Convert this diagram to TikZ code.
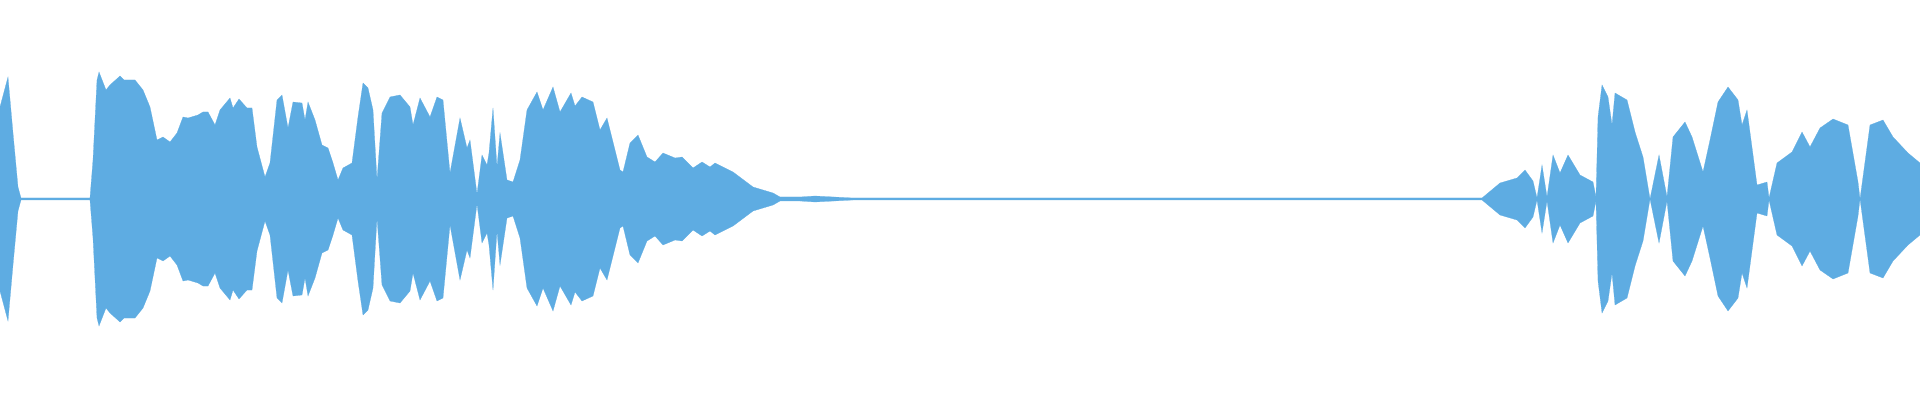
\documentclass[tikz,border=0pt]{standalone}
\definecolor{wavefill}{RGB}{94,172,226}
\tikzset{wave/.style={fill=wavefill, draw=wavefill, line width=0.3pt}}
% one half of the envelope, amplitude above the centre line
\newcommand{\wavehalf}{%
  \fill[wave] (0,0) -- (0,92) -- (8,122) -- (13,66) -- (18,12) -- (21,1) -- (90,1) -- (93,39) -- (97,119)
    -- (99,127) -- (106,109) -- (110,114) -- (120,123) -- (124,119) -- (135,119) -- (143,109) -- (150,92)
    -- (157,59) -- (163,62) -- (170,57) -- (177,66) -- (183,82) -- (188,81) -- (198,84) -- (203,87)
    -- (208,87) -- (215,74) -- (220,89) -- (230,101) -- (233,91) -- (239,100) -- (247,91) -- (252,91)
    -- (257,52) -- (265,22) -- (270,36) -- (277,99) -- (282,104) -- (288,71) -- (293,97) -- (302,96)
    -- (305,79) -- (308,97) -- (315,79) -- (322,54) -- (328,51) -- (333,36) -- (338,19) -- (343,31)
    -- (352,36) -- (358,82) -- (363,116) -- (368,111) -- (373,89) -- (377,19) -- (382,86) -- (390,102)
    -- (400,104) -- (410,92) -- (413,74) -- (420,101) -- (430,82) -- (437,102) -- (443,99) -- (450,26)
    -- (460,81) -- (467,51) -- (470,59) -- (477,5) -- (482,44) -- (487,34) -- (489,46) -- (493,91)
    -- (497,32) -- (500,66) -- (507,19) -- (513,17) -- (520,39) -- (527,89) -- (537,107) -- (543,89)
    -- (553,112) -- (560,87) -- (571,106) -- (575,93) -- (582,102) -- (593,97) -- (600,69) -- (607,81)
    -- (620,29) -- (623,27) -- (630,56) -- (638,64) -- (647,42) -- (655,37) -- (663,46) -- (675,41)
    -- (682,42) -- (693,31) -- (702,37) -- (710,32) -- (715,36) -- (733,27) -- (753,12) -- (773,6)
    -- (780,2) -- (800,2) -- (815,3) -- (853,1) -- (1482,1) -- (1500,16) -- (1517,21) -- (1525,29)
    -- (1533,18) -- (1537,1) -- (1542,34) -- (1547,2) -- (1553,44) -- (1560,26) -- (1568,44) -- (1580,24)
    -- (1593,17) -- (1596,2) -- (1598,82) -- (1602,114) -- (1608,102) -- (1612,74) -- (1615,106)
    -- (1627,99) -- (1635,67) -- (1643,42) -- (1650,0) -- (1659,44) -- (1667,2) -- (1673,62) -- (1685,77)
    -- (1692,62) -- (1703,27) -- (1710,59) -- (1718,97) -- (1728,112) -- (1738,99) -- (1742,74)
    -- (1747,89) -- (1757,14) -- (1767,17) -- (1769,1) -- (1777,36) -- (1792,47) -- (1802,67)
    -- (1810,52) -- (1820,71) -- (1833,80) -- (1848,74) -- (1858,17) -- (1860,0) -- (1870,74)
    -- (1883,79) -- (1893,62) -- (1908,46) -- (1920,36) -- (1920,0) -- cycle;}
\begin{document}
\begin{tikzpicture}[x=0.05cm, y=0.05cm]
    \useasboundingbox (0,-201) rectangle (1920,199);
    % upper half
    \wavehalf
    % lower half, mirrored
    \begin{scope}[yscale=-1]
        \wavehalf
    \end{scope}
\end{tikzpicture}
\end{document}
